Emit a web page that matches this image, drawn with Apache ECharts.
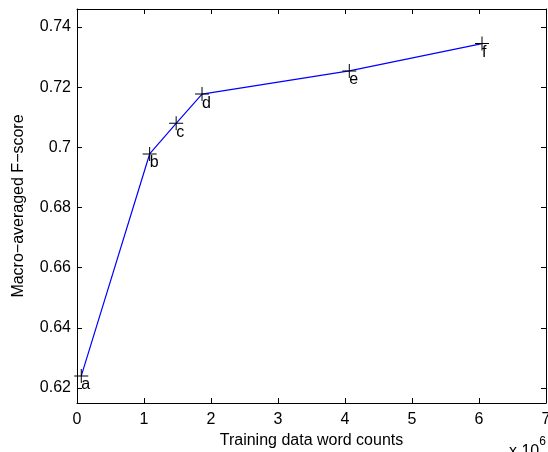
<!DOCTYPE html>
<html>
<head>
<meta charset="utf-8">
<script src="https://cdn.jsdelivr.net/npm/echarts@6/dist/echarts.min.js"></script>
<style>
    html, body { margin: 0; padding: 0; background: #fff; }
    #main { width: 548px; height: 452px; }
</style>
</head>
<body>
<div id="main"></div>
<script>
'use strict';
// word counts, in units of 10^6
var wordCounts = [0.064, 1.084, 1.48, 1.866, 4.064, 6.045];
var fScores = [0.624, 0.6978, 0.708, 0.7177, 0.7254, 0.7345];
var pointNames = ['a', 'b', 'c', 'd', 'e', 'f'];

var FONT = 'Liberation Sans, Arial, Helvetica, sans-serif';

var chart = echarts.init(document.getElementById('main'), null, { renderer: 'canvas' });

var points = [];
for (var i = 0; i < wordCounts.length; i++) {
    points.push({ value: [wordCounts[i], fScores[i]], name: pointNames[i] });
}

// + marker, drawn as two thin bars
var plusPath = 'path://M-7,-0.5H7V0.5H-7Z M-0.5,-7H0.5V7H-0.5Z';

var boxAxisLine = { show: true, onZero: false, lineStyle: { color: '#000', width: 1 } };
var inTick = { show: true, inside: true, length: 5, lineStyle: { color: '#000', width: 1 } };

var option = {
    backgroundColor: '#fff',
    animation: false,
    grid: { left: 77, right: 2, top: 9, bottom: 49, containLabel: false, outerBoundsMode: 'none' },
    xAxis: [{
        type: 'value',
        min: 0,
        max: 7,
        interval: 1,
        position: 'bottom',
        name: 'Training data word counts',
        nameLocation: 'middle',
        nameGap: 30,
        nameTextStyle: { fontFamily: FONT, fontSize: 16, color: '#000' },
        axisLine: boxAxisLine,
        axisTick: inTick,
        splitLine: { show: false },
        axisLabel: { fontFamily: FONT, fontSize: 16, color: '#000', margin: 9 }
    }, {
        type: 'value',
        min: 0,
        max: 7,
        interval: 1,
        position: 'top',
        axisLine: boxAxisLine,
        axisTick: inTick,
        splitLine: { show: false },
        axisLabel: { show: false }
    }],
    yAxis: [{
        type: 'value',
        min: 0.615,
        max: 0.746,
        splitNumber: 6,
        position: 'left',
        name: 'Macro\u2212averaged F\u2212score',
        nameLocation: 'middle',
        nameGap: 50,
        nameTextStyle: { fontFamily: FONT, fontSize: 16, color: '#000' },
        axisLine: boxAxisLine,
        axisTick: inTick,
        splitLine: { show: false },
        axisLabel: {
            fontFamily: FONT, fontSize: 16, color: '#000', margin: 6,
            showMinLabel: false, showMaxLabel: false
        }
    }, {
        type: 'value',
        min: 0.615,
        max: 0.746,
        splitNumber: 6,
        position: 'right',
        axisLine: boxAxisLine,
        axisTick: inTick,
        splitLine: { show: false },
        axisLabel: { show: false }
    }],
    graphic: [{
        type: 'text',
        left: 509,
        top: 436,
        style: {
            text: '{b|x 10}{s|6}',
            rich: {
                b: { fontFamily: FONT, fontSize: 16, fill: '#000', padding: [8, 0, 0, 0] },
                s: { fontFamily: FONT, fontSize: 12, fill: '#000', verticalAlign: 'top' }
            }
        }
    }],
    series: [{
        type: 'line',
        xAxisIndex: 0,
        yAxisIndex: 0,
        data: points,
        lineStyle: { color: '#0000ff', width: 1.2 },
        symbol: plusPath,
        symbolSize: 14,
        itemStyle: { color: '#000' },
        label: {
            show: true,
            formatter: '{b}',
            position: [7, 8],
            align: 'left',
            verticalAlign: 'top',
            fontFamily: FONT,
            fontSize: 16,
            color: '#000'
        },
        z: 3
    }]
};

chart.setOption(option);
</script>
</body>
</html>
